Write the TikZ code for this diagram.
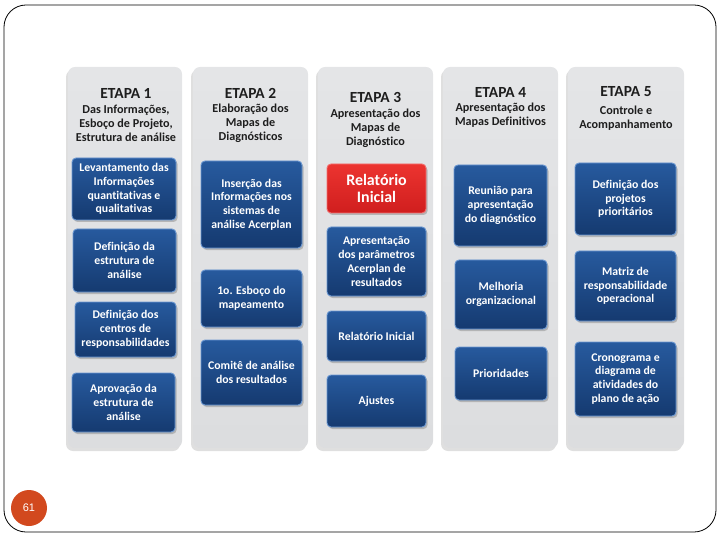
\documentclass[tikz,border=0pt]{standalone}
\usepackage{fontspec}
\setmainfont{Carlito}[Ligatures=NoCommon]
\newfontfamily\arialf{Liberation Sans}
\usetikzlibrary{shadows}
\definecolor{panelgray}{HTML}{DCDDDF}
\definecolor{paneltop}{HTML}{E4E5E7}
\definecolor{bluetop}{HTML}{275A9E}
\definecolor{bluebot}{HTML}{153A70}
\definecolor{blueedge}{HTML}{6B98D2}
\definecolor{redtop}{HTML}{EC3430}
\definecolor{redbot}{HTML}{D01E1E}
\definecolor{rededge}{HTML}{F27070}
\definecolor{badge}{HTML}{D2491E}
\definecolor{headtext}{HTML}{1E1E1E}
\tikzset{
  panel/.style={rounded corners=7bp, top color=paneltop, bottom color=panelgray, draw=none,
    drop shadow={opacity=0.25, shadow xshift=-2bp, shadow yshift=-3bp}},
  bluebox/.style={rounded corners=4bp, top color=bluetop, bottom color=bluebot, draw=blueedge, line width=0.9bp,
    drop shadow={opacity=0.45, shadow xshift=1.5bp, shadow yshift=-2bp},
    text=white, align=center, font=\fontsize{11.8}{13.8}\selectfont\bfseries, inner sep=1bp},
  redbox/.style={bluebox, top color=redtop, bottom color=redbot, draw=rededge,
    font=\fontsize{16}{18}\selectfont\bfseries},
  etapa/.style={text=headtext, font=\fontsize{15.5}{17}\selectfont\bfseries, inner sep=0pt},
  subt/.style={text=headtext, align=center, font=\fontsize{12.2}{14}\selectfont\bfseries, inner sep=0pt, anchor=north},
}
\begin{document}
\begin{tikzpicture}[x=1bp,y=-1bp]
\useasboundingbox (0,0) rectangle (720,540);
\draw[line width=0.8bp, rounded corners=22bp] (4,5) rectangle (716,532);
\node[circle, fill=badge, minimum size=36bp, inner sep=0pt, text=white, font=\arialf\fontsize{11}{13}\selectfont] (pg) at (29,508) {61};

% panels
\node[panel, minimum width=114bp, minimum height=381bp] (p1) at (125,257.5) {};
\node[panel, minimum width=115bp, minimum height=381bp] (p2) at (250.5,257.5) {};
\node[panel, minimum width=115bp, minimum height=381bp] (p3) at (375.5,257.5) {};
\node[panel, minimum width=115bp, minimum height=381bp] (p4) at (500.5,257.5) {};
\node[panel, minimum width=116bp, minimum height=381bp] (p5) at (626,257.5) {};

% headers
\node[etapa] (e1) at (126,93) {ETAPA 1};
\node[subt] (s1) at (126,104.5) {Das Informações,\\Esboço de Projeto,\\Estrutura de análise};
\node[etapa] (e2) at (250.5,93) {ETAPA 2};
\node[subt] (s2) at (250.5,103.5) {Elaboração dos\\Mapas de\\Diagnósticos};
\node[etapa] (e3) at (375.5,97) {ETAPA 3};
\node[subt] (s3) at (375.5,108.5) {Apresentação dos\\Mapas de\\Diagnóstico};
\node[etapa] (e4) at (500.5,92) {ETAPA 4};
\node[subt] (s4) at (500.5,102.5) {Apresentação dos\\Mapas Definitivos};
\node[etapa] (e5) at (626,92) {ETAPA 5};
\node[subt] (s5) at (626,105.5) {Controle e\\Acompanhamento};

% column 1
\node[bluebox, minimum width=104bp, minimum height=62bp] (b11) at (124,189) {Levantamento das\\Informações\\quantitativas e\\qualitativas};
\node[bluebox, minimum width=103bp, minimum height=63bp] (b12) at (124.5,260.5) {Definição da\\estrutura de\\análise};
\node[bluebox, minimum width=101bp, minimum height=55bp] (b13) at (125.5,329.5) {Definição dos\\centros de\\responsabilidades};
\node[bluebox, minimum width=103bp, minimum height=59bp] (b14) at (123.5,402.5) {Aprovação da\\estrutura de\\análise};

% column 2
\node[bluebox, minimum width=101bp, minimum height=87bp] (b21) at (251.5,204.5) {Inserção das\\Informações nos\\sistemas de\\análise Acerplan};
\node[bluebox, minimum width=101bp, minimum height=57bp] (b22) at (251.5,298.5) {1o. Esboço do\\mapeamento};
\node[bluebox, minimum width=101bp, minimum height=65bp] (b23) at (251.5,372.5) {Comitê de análise\\dos resultados};

% column 3
\node[redbox, minimum width=99bp, minimum height=49bp] (b31) at (376.5,188.5) {Relatório\\Inicial};
\node[bluebox, minimum width=99bp, minimum height=69bp] (b32) at (376.5,261.5) {Apresentação\\dos parâmetros\\Acerplan de\\resultados};
\node[bluebox, minimum width=99bp, minimum height=50bp] (b33) at (376.5,336) {Relatório Inicial};
\node[bluebox, minimum width=99bp, minimum height=52bp] (b34) at (376.5,401) {Ajustes};

% column 4
\node[bluebox, minimum width=93bp, minimum height=81bp] (b41) at (500.5,205.5) {Reunião para\\apresentação\\do diagnóstico};
\node[bluebox, minimum width=92bp, minimum height=69bp] (b42) at (501,294.5) {Melhoria\\organizacional};
\node[bluebox, minimum width=92bp, minimum height=53bp] (b43) at (501,373.5) {Prioridades};

% column 5
\node[bluebox, minimum width=101bp, minimum height=72bp] (b51) at (625.5,199) {Definição dos\\projetos\\prioritários};
\node[bluebox, minimum width=101bp, minimum height=70bp] (b52) at (625.5,286) {Matriz de\\responsabilidade\\operacional};
\node[bluebox, minimum width=101bp, minimum height=74bp] (b53) at (625.5,379) {Cronograma e\\diagrama de\\atividades do\\plano de ação};
\end{tikzpicture}
\end{document}
